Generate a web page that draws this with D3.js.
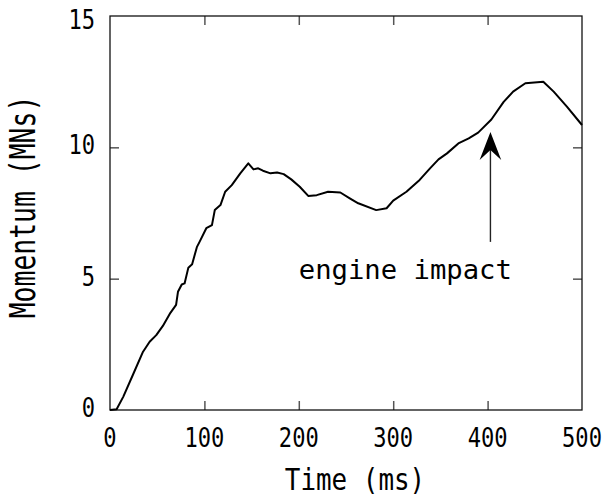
<!DOCTYPE html>
<html>
<head>
<meta charset="utf-8">
<script src="https://cdn.jsdelivr.net/npm/d3@7"></script>
<style>
  html, body { margin: 0; padding: 0; background: #fff; }
  svg { display: block; }
</style>
</head>
<body>
<div id="chart"></div>
<script>
// data
const timeMs = [0, 7, 14, 25, 35, 42, 49, 56, 64, 70, 72, 76, 79, 83, 87, 92, 95, 102, 108, 111,
  117, 122, 129, 138, 146.5, 152, 157, 162, 170, 177, 184, 192, 201, 210, 219, 231, 244, 254,
  263, 282, 293, 300, 314, 328, 339, 348, 357, 369, 380, 390, 404, 417, 427, 440, 459, 470, 484, 500];
const momentum = [0, 0.03, 0.5, 1.4, 2.22, 2.6, 2.85, 3.2, 3.7, 4.0, 4.5, 4.78, 4.82, 5.42, 5.55,
  6.2, 6.41, 6.92, 7.04, 7.61, 7.8, 8.31, 8.56, 9.01, 9.39, 9.16, 9.2, 9.11, 9.01, 9.04, 8.98,
  8.78, 8.5, 8.15, 8.18, 8.31, 8.28, 8.06, 7.87, 7.61, 7.68, 7.97, 8.31, 8.76, 9.2, 9.54, 9.77,
  10.15, 10.34, 10.56, 11.06, 11.73, 12.12, 12.44, 12.5, 12.12, 11.55, 10.85];
const xTicks = [0, 100, 200, 300, 400, 500];
const yTicks = [0, 5, 10, 15];
const xTitle = 'Time (ms)';
const yTitle = 'Momentum (MNs)';
const note = { text: 'engine impact', t: 201, m: 5, arrowT: 403, arrowTop: 10.58, arrowBottom: 6.4 };

const W = 607, H = 497;
const M = { top: 16, right: 25, bottom: 87, left: 110 };
const FONT = "'DejaVu Sans Mono', 'Liberation Mono', monospace";
const MONO_ADV = 0.602; // DejaVu Sans Mono advance / em

const svg = d3.select('#chart').append('svg').attr('width', W).attr('height', H);

const x = d3.scaleLinear().domain([0, 500]).range([M.left, W - M.right]);
const y = d3.scaleLinear().domain([0, 15]).range([H - M.bottom, M.top]);

// condensed monospace text: glyphs squeezed horizontally to a fixed advance
const label = (g, px, py, text, { size = 27, adv = 13.3, anchor = 'middle', rotate = 0 } = {}) =>
  g.append('text')
    .attr('transform', `translate(${px},${py}) rotate(${rotate}) scale(${adv / (size * MONO_ADV)},1)`)
    .attr('text-anchor', anchor)
    .style('font-family', FONT).style('font-size', size + 'px').style('fill', '#000')
    .text(text);

const tickStyle = g => {
  g.selectAll('.tick line').attr('stroke', '#555').attr('stroke-width', 1.5);
  g.select('.domain').remove();
};

// ticks point inward on all four sides
svg.append('g').attr('transform', `translate(0,${y(0)})`)
  .call(d3.axisBottom(x).tickValues(xTicks.slice(1, -1)).tickSize(-9).tickFormat(''))
  .call(tickStyle);
svg.append('g').attr('transform', `translate(0,${y(15)})`)
  .call(d3.axisTop(x).tickValues(xTicks.slice(1, -1)).tickSize(-9).tickFormat(''))
  .call(tickStyle);
svg.append('g').attr('transform', `translate(${x(0)},0)`)
  .call(d3.axisLeft(y).tickValues(yTicks.slice(1, -1)).tickSize(-9).tickFormat(''))
  .call(tickStyle);
svg.append('g').attr('transform', `translate(${x(500)},0)`)
  .call(d3.axisRight(y).tickValues(yTicks.slice(1, -1)).tickSize(-9).tickFormat(''))
  .call(tickStyle);

// frame
svg.append('rect')
  .attr('x', x(0)).attr('y', y(15))
  .attr('width', x(500) - x(0)).attr('height', y(0) - y(15))
  .attr('fill', 'none').attr('stroke', '#111').attr('stroke-width', 1.3);

// tick labels
const tl = svg.append('g');
xTicks.forEach(v => label(tl, x(v), y(0) + 37, String(v)));
yTicks.forEach(v => label(tl, x(0) - 15, Math.max(y(v) + 7, y(15) + 13), String(v), { anchor: 'end' }));

// axis titles
label(svg, (x(0) + x(500)) / 2 + 9, H - 7, xTitle, { size: 31, adv: 15.6 });
label(svg, 35, (y(0) + y(15)) / 2 - 6, yTitle, { size: 36, adv: 15.9, rotate: -90 });

// curve
const pts = timeMs.map((t, i) => [t, momentum[i]]);
svg.append('path').datum(pts)
  .attr('d', d3.line().x(d => x(d[0])).y(d => y(d[1])))
  .attr('fill', 'none').attr('stroke', '#000').attr('stroke-width', 2)
  .attr('stroke-linejoin', 'round');

// annotation
const ax = x(note.arrowT), aTop = y(note.arrowTop);
svg.append('line')
  .attr('x1', ax).attr('x2', ax).attr('y1', y(note.arrowBottom)).attr('y2', aTop + 16)
  .attr('stroke', '#222').attr('stroke-width', 1.4);
svg.append('path')
  .attr('d', `M${ax},${aTop} L${ax + 10.8},${aTop + 28} L${ax},${aTop + 18} L${ax - 10.8},${aTop + 28} Z`)
  .attr('fill', '#000');
label(svg, x(note.t) - 1, y(note.m), note.text, { size: 27, adv: 16.4, anchor: 'start' });
</script>
</body>
</html>
